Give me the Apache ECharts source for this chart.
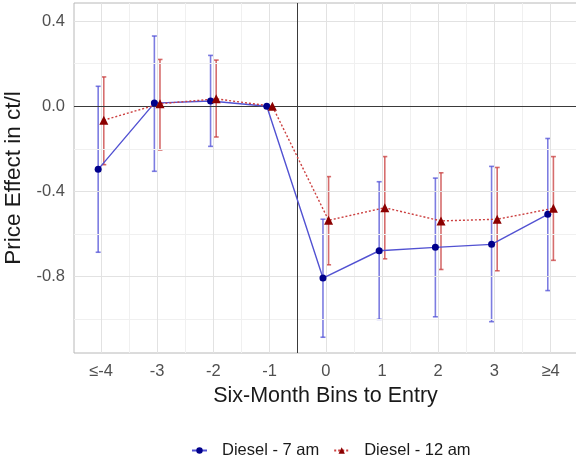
<!DOCTYPE html>
<html>
<head>
<meta charset="utf-8">
<script src="https://cdn.jsdelivr.net/npm/echarts@6/dist/echarts.min.js"></script>
<style>html,body{margin:0;padding:0;background:#fff}#c{width:576px;height:461px}</style>
</head>
<body>
<div id="c"></div>
<script>
// ---- data ----
const bins = ['≤-4', '-3', '-2', '-1', '0', '1', '2', '3', '≥4'];
const diesel7 = [-0.296, 0.015, 0.025, 0, -0.806, -0.678, -0.662, -0.648, -0.507];
const diesel7Lo = [-0.685, -0.305, -0.188, 0, -1.084, -1.000, -0.988, -1.011, -0.865];
const diesel7Hi = [0.094, 0.330, 0.239, 0, -0.530, -0.354, -0.337, -0.282, -0.151];
const diesel12 = [-0.065, 0.012, 0.035, 0, -0.535, -0.476, -0.538, -0.530, -0.479];
const diesel12Lo = [-0.274, -0.205, -0.144, 0, -0.744, -0.716, -0.766, -0.772, -0.723];
const diesel12Hi = [0.138, 0.220, 0.217, 0, -0.330, -0.236, -0.312, -0.287, -0.236];
const yTicks = [0.4, 0.0, -0.4, -0.8];
const yMinor = [0.2, -0.2, -0.6, -1.0];
const entryLine = -0.5;

const dodge = 0.05;
const pos = bins.map((b, i) => i - 4);
const xMajor = pos;
const xMinor = pos.slice(0, -1).map(p => p + 0.5).filter(p => p !== entryLine);

function pts(vals, off) { return vals.map((v, i) => [pos[i] + off, v]); }
function bars(lo, hi, off) { return lo.map((l, i) => [pos[i] + off, l, hi[i]]); }

function errRender(color) {
  return function (params, api) {
    const x = api.value(0), lo = api.value(1), hi = api.value(2);
    if (lo === hi) return null;
    const a = api.coord([x, hi]), b = api.coord([x, lo]);
    const cw = 2.5;
    const st = { stroke: color, lineWidth: 1.6 };
    return {
      type: 'group',
      children: [
        { type: 'line', shape: { x1: a[0], y1: a[1], x2: b[0], y2: b[1] }, style: st },
        { type: 'line', shape: { x1: a[0] - cw, y1: a[1], x2: a[0] + cw, y2: a[1] }, style: st },
        { type: 'line', shape: { x1: b[0] - cw, y1: b[1], x2: b[0] + cw, y2: b[1] }, style: st }
      ]
    };
  };
}

function gridLines(name, xs, ys, color, width, z) {
  return {
    name: name, type: 'line', data: [], z: z, silent: true,
    markLine: {
      silent: true, symbol: ['none', 'none'], animation: false,
      label: { show: false },
      lineStyle: { color: color, width: width, type: 'solid' },
      data: xs.map(v => ({ xAxis: v })).concat(ys.map(v => ({ yAxis: v })))
    }
  };
}

const chart = echarts.init(document.getElementById('c'), null, { renderer: 'canvas' });
chart.setOption({
  animation: false,
  backgroundColor: '#ffffff',
  grid: { left: 74, right: -1, top: 3, bottom: 108, show: true, borderColor: '#b8b8b8', borderWidth: 1, backgroundColor: 'transparent', containLabel: false, outerBoundsMode: 'none' },
  xAxis: {
    type: 'value', min: -4.48, max: 4.47,
    name: 'Six-Month Bins to Entry', nameLocation: 'middle', nameGap: 32,
    nameTextStyle: { fontSize: 21.5, color: '#1a1a1a', fontFamily: 'Liberation Sans, Arial, sans-serif' },
    axisLine: { show: false },
    splitLine: { show: false },
    axisTick: { show: true, customValues: xMajor, length: 4, lineStyle: { color: '#b8b8b8' } },
    axisLabel: {
      customValues: xMajor, margin: 10, fontSize: 16.5, color: '#505050',
      fontFamily: 'Liberation Sans, Arial, sans-serif',
      formatter: v => bins[Math.round(v) + 4]
    }
  },
  yAxis: {
    type: 'value', min: -1.158, max: 0.485,
    name: 'Price Effect in ct/l', nameLocation: 'middle', nameGap: 46,
    nameTextStyle: { fontSize: 22.5, color: '#1a1a1a', fontFamily: 'Liberation Sans, Arial, sans-serif' },
    axisLine: { show: false },
    splitLine: { show: false },
    axisTick: { show: true, customValues: yTicks, length: 4, lineStyle: { color: '#b8b8b8' } },
    axisLabel: {
      customValues: yTicks, margin: 9, fontSize: 16.5, color: '#505050',
      fontFamily: 'Liberation Sans, Arial, sans-serif',
      formatter: v => v.toFixed(1)
    }
  },
  legend: {
    left: 186, top: 437, itemWidth: 15, itemHeight: 8, itemGap: 14,
    textStyle: { fontSize: 16.5, color: '#1a1a1a', fontFamily: 'Liberation Sans, Arial, sans-serif', padding: [0, 0, 0, 10] },
    data: ['Diesel - 7 am', 'Diesel - 12 am']
  },
  series: [
    gridLines('minor', xMinor, yMinor, '#f0f0f0', 1, 0),
    gridLines('major', xMajor, yTicks.filter(v => v !== 0), '#e2e2e2', 1, 0),
    gridLines('ref', [entryLine], [0], '#3a3a3a', 1, 1),
    {
      name: 'err7', type: 'custom', z: 3, renderItem: errRender('rgba(80,80,215,0.75)'),
      encode: { x: 0, y: [1, 2] }, data: bars(diesel7Lo, diesel7Hi, -dodge)
    },
    {
      name: 'err12', type: 'custom', z: 3, renderItem: errRender('rgba(200,60,60,0.75)'),
      encode: { x: 0, y: [1, 2] }, data: bars(diesel12Lo, diesel12Hi, dodge)
    },
    {
      name: 'Diesel - 7 am', type: 'line', z: 5, data: pts(diesel7, -dodge),
      symbol: 'circle', symbolSize: 7,
      lineStyle: { color: '#5252d2', width: 1.4 },
      itemStyle: { color: '#00008b' }
    },
    {
      name: 'Diesel - 12 am', type: 'line', z: 5, data: pts(diesel12, dodge),
      symbol: 'triangle', symbolSize: 9,
      lineStyle: { color: '#cc4040', width: 1.4, type: [2, 2] },
      itemStyle: { color: '#8b0000' }
    }
  ]
});
</script>
</body>
</html>
